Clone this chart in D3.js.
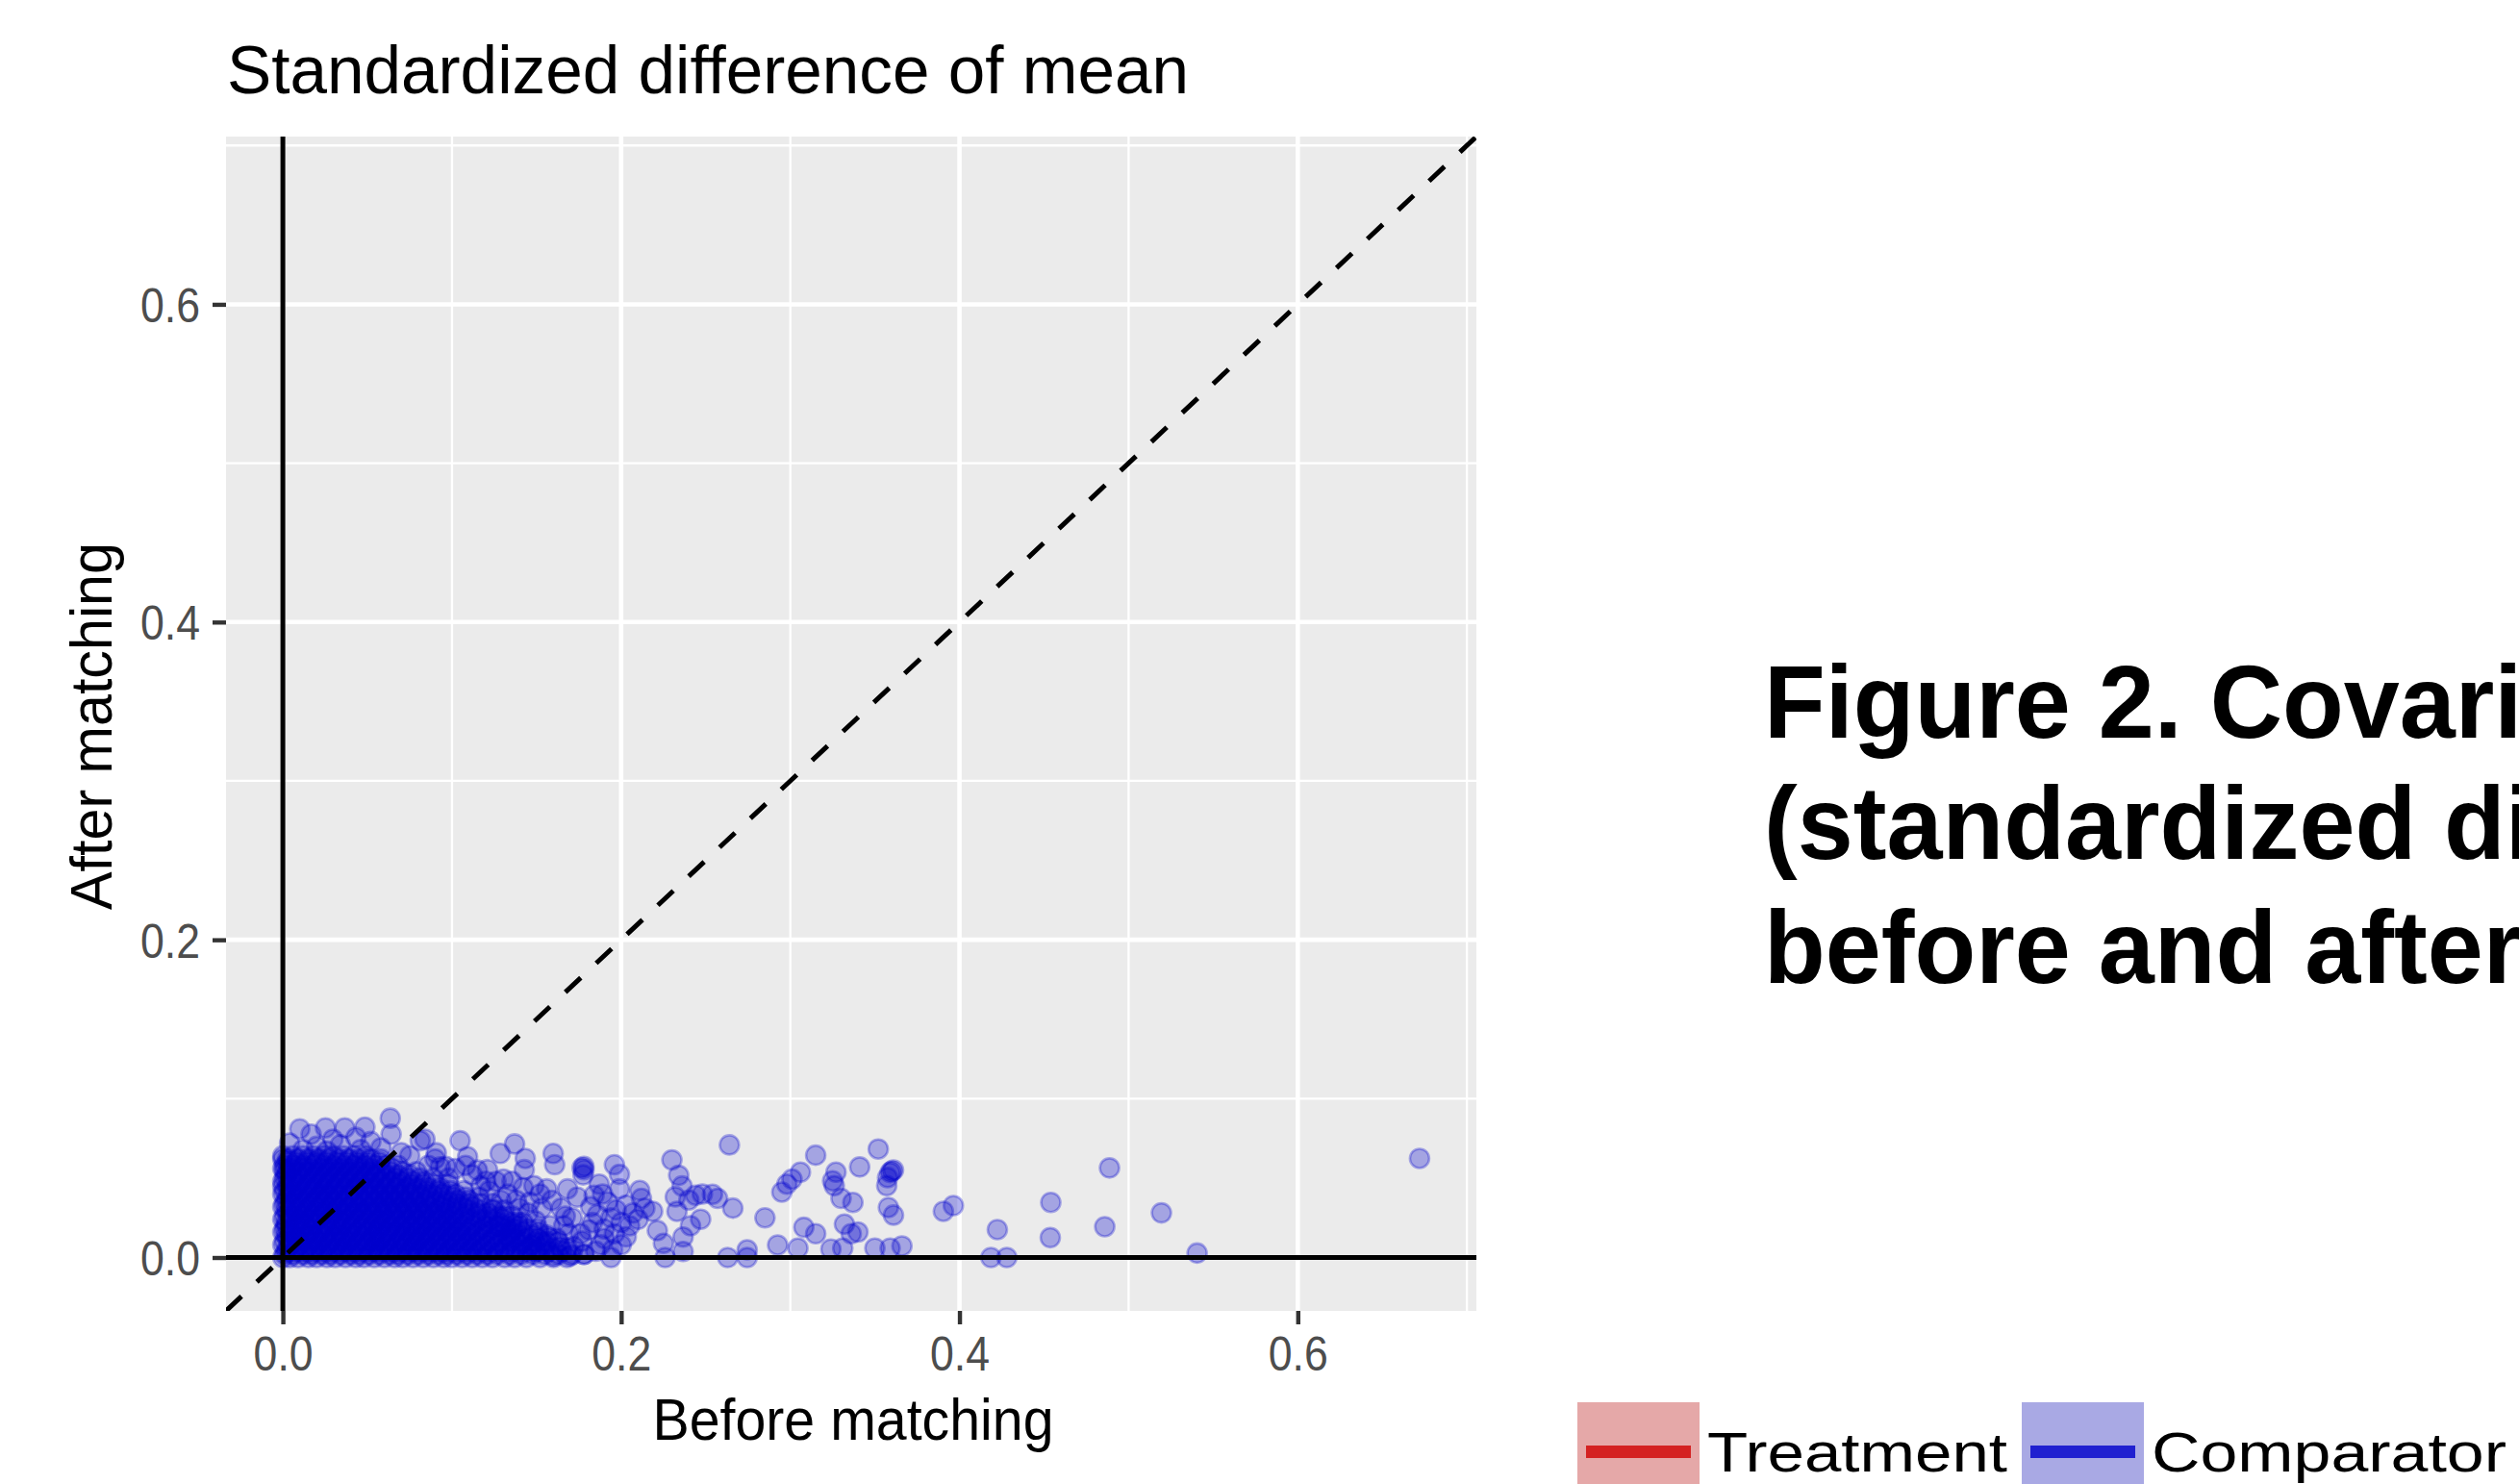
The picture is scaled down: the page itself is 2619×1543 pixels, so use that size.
<!DOCTYPE html>
<html>
<head>
<meta charset="utf-8">
<script src="https://cdn.jsdelivr.net/npm/d3@7"></script>
<style>
  body { margin: 0; background: #fff; }
  svg { display: block; font-family: "Liberation Sans", Arial, Helvetica, sans-serif; }
</style>
</head>
<body>
<div id="chart"></div>
<script>
// axis limits (same for both axes) and breaks
var limits = [0, 0.672];
var majorBreaks = [0, 0.2, 0.4, 0.6];
var minorBreaks = [0.1, 0.3, 0.5, 0.7];

// dense core of covariates, one row per "after" level, "before" values listed
var coreY = [0.000, 0.004, 0.008, 0.012, 0.016, 0.020, 0.024, 0.028, 0.032,
             0.036, 0.040, 0.044, 0.048, 0.052, 0.056, 0.060, 0.064];
var coreX = [
  [0.000,0.004,0.009,0.015,0.020,0.026,0.031,0.037,0.043,0.048,0.054,0.060,0.066,0.071,0.077,0.083,0.089,0.095,0.100,0.106,0.112,0.118,0.124,0.131,0.137,0.144,0.152,0.160,0.168],
  [0.002,0.007,0.012,0.018,0.023,0.029,0.035,0.040,0.046,0.052,0.057,0.063,0.069,0.075,0.080,0.086,0.092,0.098,0.104,0.110,0.116,0.122,0.128,0.135,0.142,0.149,0.157,0.165],
  [0.000,0.005,0.010,0.016,0.021,0.027,0.033,0.038,0.044,0.050,0.055,0.061,0.067,0.073,0.078,0.084,0.090,0.096,0.102,0.108,0.114,0.120,0.127,0.133,0.140,0.147,0.155],
  [0.003,0.008,0.013,0.019,0.024,0.030,0.036,0.041,0.047,0.053,0.058,0.064,0.070,0.076,0.081,0.087,0.093,0.099,0.105,0.111,0.117,0.124,0.130,0.137,0.144,0.151],
  [0.000,0.005,0.011,0.016,0.022,0.027,0.033,0.039,0.044,0.050,0.056,0.062,0.067,0.073,0.079,0.085,0.091,0.097,0.103,0.109,0.115,0.121,0.128,0.135,0.142],
  [0.002,0.007,0.013,0.018,0.024,0.030,0.035,0.041,0.047,0.053,0.058,0.064,0.070,0.076,0.082,0.088,0.094,0.100,0.106,0.112,0.119,0.126,0.132,0.139],
  [0.000,0.005,0.010,0.016,0.021,0.027,0.033,0.038,0.044,0.050,0.056,0.061,0.067,0.073,0.079,0.085,0.091,0.097,0.103,0.110,0.117,0.124,0.131],
  [0.003,0.008,0.013,0.019,0.025,0.030,0.036,0.042,0.047,0.053,0.059,0.065,0.071,0.077,0.083,0.089,0.095,0.101,0.108,0.115,0.121],
  [0.000,0.005,0.011,0.016,0.022,0.028,0.033,0.039,0.045,0.051,0.057,0.062,0.068,0.074,0.080,0.086,0.093,0.099,0.106,0.113],
  [0.002,0.007,0.013,0.019,0.024,0.030,0.036,0.042,0.048,0.054,0.060,0.066,0.072,0.078,0.084,0.090,0.097,0.104,0.110],
  [0.000,0.005,0.010,0.016,0.022,0.027,0.033,0.039,0.045,0.051,0.057,0.063,0.069,0.075,0.081,0.088,0.095,0.102],
  [0.003,0.008,0.014,0.019,0.025,0.031,0.037,0.043,0.049,0.055,0.061,0.067,0.073,0.079,0.086,0.093],
  [0.000,0.006,0.011,0.017,0.023,0.028,0.034,0.040,0.046,0.052,0.058,0.064,0.070,0.077,0.084],
  [0.002,0.008,0.013,0.019,0.025,0.031,0.037,0.043,0.049,0.055,0.061,0.068,0.075],
  [0.000,0.005,0.011,0.016,0.022,0.028,0.034,0.040,0.046,0.052,0.058,0.065],
  [0.003,0.008,0.014,0.020,0.026,0.032,0.038,0.044,0.050,0.057],
  [0.000,0.006,0.012,0.018,0.024,0.030,0.036,0.042,0.049]
];
// second, interleaved layer of the core
var coreY2 = [0.002, 0.006, 0.010, 0.014, 0.018, 0.022, 0.026, 0.030,
              0.034, 0.038, 0.042, 0.046, 0.050, 0.054, 0.058, 0.062];
var coreX2 = [
  [0.001,0.006,0.012,0.017,0.023,0.028,0.034,0.040,0.045,0.051,0.057,0.063,0.068,0.074,0.080,0.086,0.092,0.097,0.103,0.109,0.115,0.121,0.127,0.134,0.141,0.148,0.155,0.163,0.171,0.178],
  [0.003,0.008,0.014,0.019,0.025,0.031,0.036,0.042,0.048,0.054,0.059,0.065,0.071,0.077,0.083,0.088,0.094,0.100,0.106,0.112,0.118,0.125,0.131,0.138,0.145,0.152,0.160,0.168],
  [0.001,0.006,0.011,0.017,0.022,0.028,0.034,0.039,0.045,0.051,0.056,0.062,0.068,0.074,0.079,0.085,0.091,0.097,0.103,0.109,0.115,0.122,0.128,0.135,0.142,0.149,0.156,0.163],
  [0.002,0.007,0.013,0.018,0.024,0.030,0.035,0.041,0.047,0.053,0.058,0.064,0.070,0.076,0.082,0.088,0.094,0.100,0.106,0.113,0.119,0.126,0.133,0.140,0.148,0.156],
  [0.001,0.006,0.011,0.017,0.023,0.028,0.034,0.040,0.046,0.052,0.057,0.063,0.069,0.075,0.081,0.087,0.093,0.099,0.105,0.111,0.118,0.124,0.131,0.138,0.145,0.151],
  [0.002,0.008,0.013,0.019,0.025,0.031,0.036,0.042,0.048,0.054,0.060,0.066,0.072,0.078,0.084,0.090,0.096,0.102,0.108,0.114,0.121,0.128,0.135,0.142],
  [0.001,0.006,0.012,0.017,0.023,0.029,0.035,0.041,0.047,0.053,0.059,0.065,0.071,0.077,0.083,0.089,0.095,0.101,0.107,0.114,0.121,0.128,0.136],
  [0.002,0.008,0.014,0.019,0.025,0.031,0.037,0.043,0.049,0.055,0.061,0.067,0.073,0.079,0.085,0.091,0.097,0.103,0.110,0.117,0.124,0.131],
  [0.001,0.006,0.012,0.018,0.024,0.030,0.036,0.042,0.048,0.054,0.060,0.066,0.072,0.078,0.084,0.090,0.096,0.103,0.110,0.117,0.124],
  [0.003,0.009,0.015,0.021,0.027,0.033,0.039,0.045,0.051,0.057,0.063,0.069,0.075,0.081,0.087,0.094,0.101,0.108,0.116],
  [0.001,0.006,0.012,0.018,0.024,0.030,0.036,0.042,0.048,0.054,0.060,0.066,0.072,0.078,0.085,0.092,0.099,0.107],
  [0.003,0.009,0.015,0.021,0.027,0.033,0.039,0.045,0.051,0.057,0.063,0.069,0.076,0.083,0.090,0.098],
  [0.001,0.006,0.012,0.018,0.024,0.030,0.036,0.042,0.048,0.054,0.060,0.067,0.074,0.081,0.089],
  [0.003,0.009,0.015,0.021,0.027,0.033,0.039,0.045,0.051,0.057,0.064,0.071,0.079],
  [0.001,0.006,0.012,0.018,0.024,0.030,0.036,0.042,0.048,0.054,0.061,0.068],
  [0.003,0.009,0.015,0.021,0.027,0.033,0.039,0.045,0.052,0.058]
];

// the rest of the covariates: [before, after]
var fringePts = [
  [0.010,0.081],[0.0167,0.0776],[0.0252,0.0816],[0.0296,0.0745],[0.0366,0.0816],[0.0432,0.0756],
  [0.0485,0.082],[0.0635,0.0877],[0.064,0.0776],[0.004,0.072],[0.020,0.070],[0.034,0.071],
  [0.052,0.073],[0.058,0.069],[0.046,0.068],[0.012,0.068],[0.026,0.067],[0.070,0.066],
  [0.000,0.062],[0.001,0.055],[0.000,0.045]
];
var midPts = [
  [0.0812,0.0735],[0.084,0.0745],[0.0907,0.0659],[0.1048,0.0735],[0.1092,0.0634],[0.0963,0.0574],
  [0.108,0.058],[0.121,0.0553],[0.1285,0.0655],[0.137,0.0715],[0.1433,0.0624],[0.1427,0.0553],
  [0.1304,0.0493],[0.1355,0.048],[0.126,0.048],[0.1598,0.0655],[0.1607,0.0584],[0.1769,0.0564],
  [0.1775,0.052],[0.187,0.0462],[0.1484,0.0452],[0.156,0.0432],[0.1683,0.0432],[0.174,0.038],
  [0.184,0.0392],[0.1645,0.031],[0.171,0.025],[0.181,0.0174],[0.177,0.0103],[0.169,0.015],
  [0.153,0.031],[0.1495,0.023],[0.157,0.0125],[0.164,0.0067],[0.146,0.035],[0.14,0.031],
  [0.122,0.042],[0.117,0.045],[0.090,0.062],[0.075,0.064],[0.098,0.050],[0.112,0.052],
  [0.133,0.040],[0.142,0.044],[0.158,0.020],[0.151,0.016],[0.166,0.020],[0.185,0.004],
  [0.178,0.002],[0.170,0.001],[0.190,0.012],[0.194,0.000],[0.160,0.001],
  [0.125,0.030],[0.131,0.026],[0.128,0.020],[0.136,0.018],[0.134,0.012],[0.141,0.009],
  [0.147,0.005],[0.153,0.010],[0.139,0.022],[0.145,0.028],[0.150,0.004],[0.162,0.012],
  [0.172,0.007],[0.176,0.015],[0.167,0.026],[0.159,0.036],[0.152,0.040],[0.138,0.036],
  [0.129,0.036],[0.120,0.048],[0.115,0.055],[0.102,0.056],[0.093,0.057],[0.086,0.058],
  [0.196,0.0584],[0.199,0.0523],[0.178,0.0574],[0.178,0.0553],[0.211,0.0422],[0.212,0.0372],
  [0.2186,0.0291],[0.2214,0.017],[0.199,0.0432],[0.192,0.035],[0.197,0.030],[0.203,0.033],
  [0.207,0.028],[0.194,0.025],[0.200,0.022],[0.205,0.020],[0.210,0.024],[0.190,0.018],
  [0.196,0.015],[0.203,0.013],[0.186,0.027],[0.183,0.022],[0.188,0.008],[0.195,0.005],
  [0.200,0.008],[0.182,0.032],[0.214,0.031],[0.189,0.040]
];
var sparsePts = [
  [0.264,0.0709],[0.230,0.0614],[0.234,0.0517],[0.315,0.0644],[0.352,0.0683],[0.341,0.057],
  [0.306,0.0537],[0.301,0.0493],[0.298,0.0462],[0.295,0.0412],[0.327,0.0537],[0.325,0.0483],
  [0.326,0.0452],[0.330,0.0372],[0.337,0.0347],[0.360,0.0543],[0.361,0.0551],[0.359,0.0535],
  [0.3575,0.0503],[0.357,0.0452],[0.358,0.0315],[0.361,0.0267],[0.285,0.025],[0.266,0.0311],
  [0.257,0.0372],[0.254,0.0398],[0.244,0.0392],[0.240,0.0362],[0.247,0.0241],[0.241,0.020],
  [0.2366,0.0129],[0.232,0.0382],[0.233,0.0291],[0.308,0.019],[0.315,0.015],[0.2925,0.0079],
  [0.3045,0.0059],[0.332,0.021],[0.336,0.015],[0.340,0.016],[0.324,0.0053],[0.331,0.0059],
  [0.350,0.0059],[0.359,0.0059],[0.366,0.0073],[0.263,0.000],[0.2745,0.0048],[0.2745,0.000],
  [0.226,0.000],[0.2366,0.0038],[0.225,0.0089],[0.236,0.045],[0.248,0.040],
  [0.3905,0.0291],[0.3964,0.0327],[0.4224,0.0176],[0.4186,0.000],[0.428,0.000],[0.454,0.0347],
  [0.4537,0.0125],[0.4887,0.0564],[0.4859,0.0194],[0.5194,0.0281],[0.5405,0.0028],[0.672,0.0624]
];

var captionLines = ["Figure 2. Covariate balance", "(standardized difference of mean)", "before and after matching"];
var legendLabels = ["Treatment", "Comparator"];
var legendFills = ["#E5A8A8", "#A9A9E4"];
var legendLines = ["#D42222", "#2020D0"];

var svg = d3.select("#chart").append("svg")
  .attr("width", 2619)
  .attr("height", 1543);

// ggplot style 5% expansion on both axes
var span = limits[1] - limits[0];
var dom = [limits[0] - 0.05 * span, limits[1] + 0.05 * span];
var x = d3.scaleLinear().domain(dom).range([235, 1535]);
var y = d3.scaleLinear().domain(dom).range([1363, 142]);

svg.append("defs").append("clipPath").attr("id", "panel")
  .append("rect").attr("x", 235).attr("y", 142).attr("width", 1300).attr("height", 1221);

svg.append("rect")
  .attr("x", 235).attr("y", 142).attr("width", 1300).attr("height", 1221)
  .attr("fill", "#EBEBEB");

var grid = svg.append("g");
grid.selectAll("line.vmin").data(minorBreaks).enter().append("line")
  .attr("x1", d => x(d)).attr("x2", d => x(d)).attr("y1", 142).attr("y2", 1363)
  .attr("stroke", "#fff").attr("stroke-width", 2.3);
grid.selectAll("line.hmin").data(minorBreaks).enter().append("line")
  .attr("y1", d => y(d)).attr("y2", d => y(d)).attr("x1", 235).attr("x2", 1535)
  .attr("stroke", "#fff").attr("stroke-width", 2.3);
grid.selectAll("line.vmaj").data(majorBreaks).enter().append("line")
  .attr("x1", d => x(d)).attr("x2", d => x(d)).attr("y1", 142).attr("y2", 1363)
  .attr("stroke", "#fff").attr("stroke-width", 4.6);
grid.selectAll("line.hmaj").data(majorBreaks).enter().append("line")
  .attr("y1", d => y(d)).attr("y2", d => y(d)).attr("x1", 235).attr("x2", 1535)
  .attr("stroke", "#fff").attr("stroke-width", 4.6);

// collect all points
var points = [];
coreY.forEach(function (yv, i) {
  coreX[i].forEach(function (xv) { points.push([xv, yv]); });
});
coreY2.forEach(function (yv, i) {
  coreX2[i].forEach(function (xv) { points.push([xv, yv]); });
});
points = points.concat(fringePts, midPts, sparsePts);

var plot = svg.append("g").attr("clip-path", "url(#panel)");
plot.selectAll("circle").data(points).enter().append("circle")
  .attr("cx", d => x(d[0]))
  .attr("cy", d => y(d[1]))
  .attr("r", 10)
  .attr("fill", "rgba(0,0,204,0.3)")
  .attr("stroke", "rgba(0,0,204,0.3)")
  .attr("stroke-width", 2.6);

// reference lines
plot.append("line")
  .attr("x1", x(0)).attr("x2", x(0)).attr("y1", 142).attr("y2", 1363)
  .attr("stroke", "#000").attr("stroke-width", 5);
plot.append("line")
  .attr("x1", 235).attr("x2", 1535).attr("y1", y(0)).attr("y2", y(0))
  .attr("stroke", "#000").attr("stroke-width", 5);
plot.append("line")
  .attr("x1", x(dom[0])).attr("y1", y(dom[0]))
  .attr("x2", x(dom[1])).attr("y2", y(dom[1]))
  .attr("stroke", "#000").attr("stroke-width", 5)
  .attr("stroke-dasharray", "22,22");

// axes
var fmt = d3.format(".1f");
var xAxis = svg.append("g")
  .attr("transform", "translate(0,1363)")
  .call(d3.axisBottom(x).tickValues(majorBreaks).tickFormat(fmt).tickSize(14).tickPadding(10));
var yAxis = svg.append("g")
  .attr("transform", "translate(235,0)")
  .call(d3.axisLeft(y).tickValues(majorBreaks).tickFormat(fmt).tickSize(14).tickPadding(13));
[xAxis, yAxis].forEach(function (ax) {
  ax.select(".domain").remove();
  ax.selectAll(".tick line").attr("stroke", "#333").attr("stroke-width", 4.4);
  ax.selectAll(".tick text")
    .attr("fill", "#4D4D4D")
    .attr("font-size", 50)
    .attr("textLength", 62)
    .attr("lengthAdjust", "spacingAndGlyphs");
});
xAxis.selectAll(".tick text").attr("dy", null).attr("y", 62);
yAxis.selectAll(".tick text").attr("dy", "0.36em");

// titles
svg.append("text")
  .attr("x", 236).attr("y", 97)
  .attr("font-size", 70)
  .attr("textLength", 1000).attr("lengthAdjust", "spacingAndGlyphs")
  .text("Standardized difference of mean");

svg.append("text")
  .attr("x", 887).attr("y", 1497)
  .attr("text-anchor", "middle")
  .attr("font-size", 61)
  .attr("textLength", 417).attr("lengthAdjust", "spacingAndGlyphs")
  .text("Before matching");

svg.append("text")
  .attr("transform", "translate(116,755) rotate(-90)")
  .attr("text-anchor", "middle")
  .attr("font-size", 61)
  .attr("textLength", 382).attr("lengthAdjust", "spacingAndGlyphs")
  .text("After matching");

// figure caption (runs past the right edge, as in the source figure)
var cap = svg.append("g").attr("transform", "translate(1834,0) scale(0.975,1)");
cap.selectAll("text").data(captionLines).enter().append("text")
  .attr("x", 0)
  .attr("y", (d, i) => [767, 893, 1022][i])
  .attr("font-size", 107)
  .attr("font-weight", "bold")
  .text(d => d);

// legend
var legX = [1640, 2102];
var legTextW = [312, 369];
var leg = svg.append("g");
legendLabels.forEach(function (lab, i) {
  leg.append("rect")
    .attr("x", legX[i]).attr("y", 1458).attr("width", 127).attr("height", 90)
    .attr("fill", legendFills[i]);
  leg.append("line")
    .attr("x1", legX[i] + 9).attr("x2", legX[i] + 118)
    .attr("y1", 1509.5).attr("y2", 1509.5)
    .attr("stroke", legendLines[i]).attr("stroke-width", 13);
  leg.append("text")
    .attr("x", legX[i] + 135).attr("y", 1530)
    .attr("font-size", 58)
    .attr("textLength", legTextW[i]).attr("lengthAdjust", "spacingAndGlyphs")
    .text(lab);
});
</script>
</body>
</html>
